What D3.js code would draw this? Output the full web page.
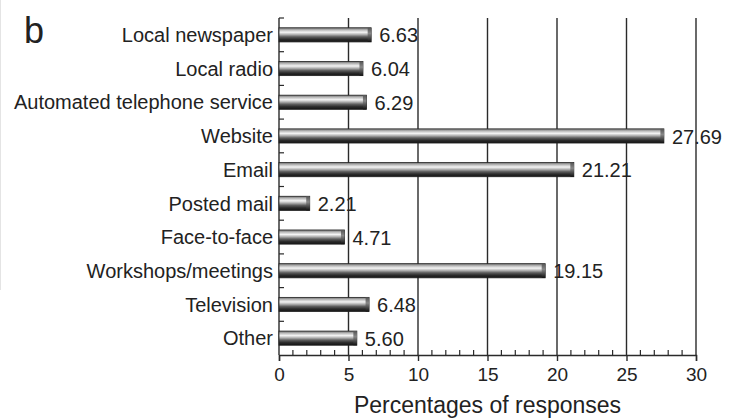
<!DOCTYPE html>
<html>
<head>
<meta charset="utf-8">
<script src="https://cdn.jsdelivr.net/npm/d3@7"></script>
<style>
  html, body { margin: 0; padding: 0; background: #fff; }
  svg { display: block; font-family: "Liberation Sans", Arial, Helvetica, sans-serif; }
</style>
</head>
<body>
<svg id="chart" width="734" height="420"></svg>
<script>
// Response channels and their share of responses (%)
const categories = [
  "Local newspaper", "Local radio", "Automated telephone service", "Website",
  "Email", "Posted mail", "Face-to-face", "Workshops/meetings", "Television", "Other"
];
const values = [6.63, 6.04, 6.29, 27.69, 21.21, 2.21, 4.71, 19.15, 6.48, 5.60];
const xTicks = [0, 5, 10, 15, 20, 25, 30];
const axisTitle = "Percentages of responses";
const panelLetter = "b";

const svg = d3.select("#chart");
const margin = { left: 279, right: 38, top: 18, bottom: 65 };
const W = 734, H = 420;

const x = d3.scaleLinear().domain([0, 30]).range([margin.left, W - margin.right]);
const y = d3.scaleBand().domain(categories).range([margin.top, H - margin.bottom]).paddingInner(0.58).paddingOuter(0.29);
const yb = d3.scaleLinear().domain([0, categories.length]).range([margin.top, H - margin.bottom]);

// Cylinder-like shading for the bars
const defs = svg.append("defs");
const grad = defs.append("linearGradient").attr("id", "barShade").attr("x1", 0).attr("x2", 0).attr("y1", 0).attr("y2", 1);
[["0%", "#6e6e6e"], ["16%", "#bdbdbd"], ["32%", "#f4f4f4"], ["48%", "#b0b0b0"], ["64%", "#5e5e5e"], ["82%", "#2a2a2a"], ["100%", "#141414"]]
  .forEach(([o, c]) => grad.append("stop").attr("offset", o).attr("stop-color", c));
const capGrad = defs.append("linearGradient").attr("id", "capShade").attr("x1", 0).attr("x2", 0).attr("y1", 0).attr("y2", 1);
[["0%", "#555"], ["40%", "#888"], ["100%", "#111"]]
  .forEach(([o, c]) => capGrad.append("stop").attr("offset", o).attr("stop-color", c));

// faint edge of the neighbouring panel
svg.append("line").attr("x1", 0.5).attr("x2", 0.5).attr("y1", 0).attr("y2", 290)
  .attr("stroke", "#e4e4e4").attr("stroke-width", 1);

// Vertical gridlines at major ticks
svg.append("g").selectAll("line").data(xTicks.slice(1)).join("line")
  .attr("x1", d => x(d)).attr("x2", d => x(d))
  .attr("y1", margin.top).attr("y2", H - margin.bottom)
  .attr("stroke", "#2a2a2a").attr("stroke-width", 1.4);

// Bottom axis: major ticks outward, minor ticks inward
const xAxis = svg.append("g").attr("transform", `translate(0,${H - margin.bottom})`)
  .call(d3.axisBottom(x).tickValues(xTicks).tickSize(6).tickPadding(7).tickFormat(d3.format("d")));
xAxis.select(".domain").attr("stroke", "#2a2a2a").attr("stroke-width", 1.4);
xAxis.selectAll(".tick line").attr("stroke", "#2a2a2a").attr("stroke-width", 1.4);
xAxis.selectAll("text").attr("font-size", 19).attr("fill", "#222");

svg.append("g").selectAll("line").data(d3.range(1, 30).filter(d => d % 5 !== 0)).join("line")
  .attr("x1", d => x(d)).attr("x2", d => x(d))
  .attr("y1", H - margin.bottom).attr("y2", H - margin.bottom - 5)
  .attr("stroke", "#2a2a2a").attr("stroke-width", 1.2);

// Left axis line with inward ticks at category boundaries
svg.append("line").attr("x1", x(0)).attr("x2", x(0))
  .attr("y1", margin.top).attr("y2", H - margin.bottom)
  .attr("stroke", "#2a2a2a").attr("stroke-width", 1.4);
svg.append("g").selectAll("line").data(d3.range(0, categories.length)).join("line")
  .attr("x1", x(0)).attr("x2", x(0) + 5)
  .attr("y1", d => yb(d)).attr("y2", d => yb(d))
  .attr("stroke", "#2a2a2a").attr("stroke-width", 1.2);

// Category labels
svg.append("g").selectAll("text").data(categories).join("text")
  .attr("x", x(0) - 6).attr("y", d => y(d) + y.bandwidth() / 2)
  .attr("dy", "0.36em").attr("text-anchor", "end")
  .attr("font-size", 20).attr("fill", "#222").text(d => d);

// Bars
const data = categories.map((c, i) => ({ c, v: values[i] }));
const bars = svg.append("g").selectAll("g").data(data).join("g");
bars.append("rect")
  .attr("x", x(0)).attr("y", d => y(d.c))
  .attr("width", d => x(d.v) - x(0)).attr("height", y.bandwidth())
  .attr("fill", "url(#barShade)").attr("stroke", "#222").attr("stroke-width", 0.8);
bars.append("rect")
  .attr("x", d => Math.max(x(0), x(d.v) - 3.5)).attr("y", d => y(d.c))
  .attr("width", d => Math.min(3.5, x(d.v) - x(0))).attr("height", y.bandwidth())
  .attr("fill", "url(#capShade)");

// Value labels
bars.append("text")
  .attr("x", d => x(d.v) + 8).attr("y", d => y(d.c) + y.bandwidth() / 2)
  .attr("dy", "0.38em").attr("font-size", 20).attr("fill", "#222")
  .text(d => d3.format(".2f")(d.v));

// Axis title and panel letter
svg.append("text").attr("x", (x(0) + x(30)) / 2).attr("y", 413)
  .attr("text-anchor", "middle").attr("font-size", 23).attr("fill", "#222").text(axisTitle);
svg.append("text").attr("x", 24).attr("y", 43)
  .attr("font-size", 36).attr("fill", "#222").text(panelLetter);
</script>
</body>
</html>
